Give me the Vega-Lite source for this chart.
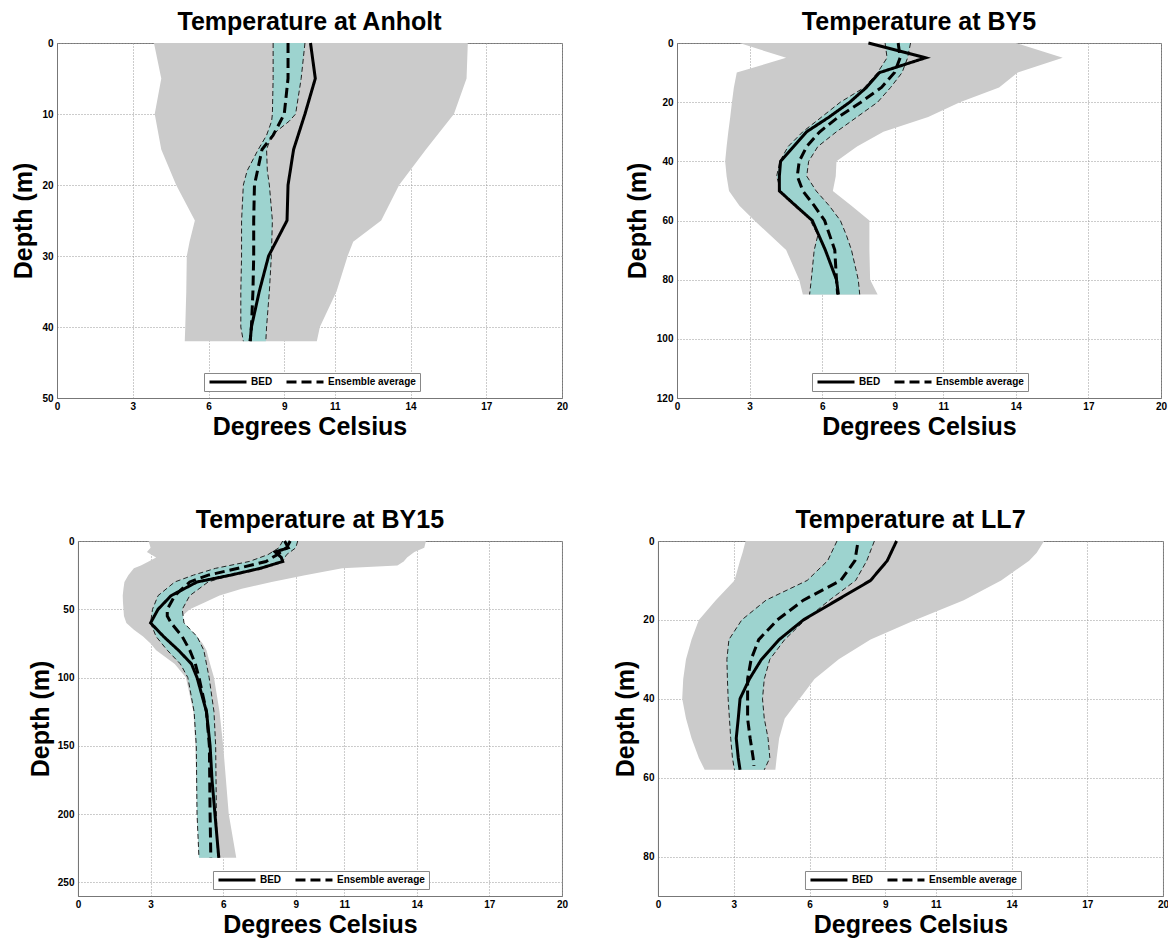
{
  "$schema": "https://vega.github.io/schema/vega-lite/v6.json",
  "background": "white",
  "padding": {"left": 11, "top": 9, "right": 0, "bottom": 0},
  "center": true,
  "spacing": 67,
  "resolve": {"scale": {"strokeDash": "independent"}, "legend": {"strokeDash": "independent"}},
  "datasets": {
    "env": [
      {"station": "Anholt", "depth": 0, "low": 3.84, "high": 16.27},
      {"station": "Anholt", "depth": 5, "low": 4.13, "high": 16.22},
      {"station": "Anholt", "depth": 10, "low": 3.87, "high": 15.72},
      {"station": "Anholt", "depth": 15, "low": 4.13, "high": 14.61},
      {"station": "Anholt", "depth": 20, "low": 4.72, "high": 13.55},
      {"station": "Anholt", "depth": 25, "low": 5.46, "high": 12.84},
      {"station": "Anholt", "depth": 28, "low": 5.25, "high": 11.73},
      {"station": "Anholt", "depth": 30, "low": 5.14, "high": 11.51},
      {"station": "Anholt", "depth": 35, "low": 5.12, "high": 11.07},
      {"station": "Anholt", "depth": 40, "low": 5.08, "high": 10.41},
      {"station": "Anholt", "depth": 42, "low": 5.06, "high": 10.29},
      {"station": "BY5", "depth": 0, "low": 2.58, "high": 14.0},
      {"station": "BY5", "depth": 5, "low": 4.51, "high": 15.94},
      {"station": "BY5", "depth": 10, "low": 2.47, "high": 14.08},
      {"station": "BY5", "depth": 15, "low": 2.35, "high": 13.31},
      {"station": "BY5", "depth": 20, "low": 2.27, "high": 11.69},
      {"station": "BY5", "depth": 25, "low": 2.2, "high": 10.38},
      {"station": "BY5", "depth": 30, "low": 2.12, "high": 8.53},
      {"station": "BY5", "depth": 35, "low": 2.05, "high": 7.44},
      {"station": "BY5", "depth": 40, "low": 1.99, "high": 6.59},
      {"station": "BY5", "depth": 45, "low": 2.05, "high": 6.56},
      {"station": "BY5", "depth": 50, "low": 2.15, "high": 6.44},
      {"station": "BY5", "depth": 55, "low": 2.58, "high": 7.21},
      {"station": "BY5", "depth": 60, "low": 3.2, "high": 7.95},
      {"station": "BY5", "depth": 70, "low": 4.51, "high": 7.95},
      {"station": "BY5", "depth": 80, "low": 5.05, "high": 7.98},
      {"station": "BY5", "depth": 85, "low": 5.2, "high": 8.29},
      {"station": "BY15", "depth": 0, "low": 2.92, "high": 14.38},
      {"station": "BY15", "depth": 5, "low": 3.0, "high": 14.31},
      {"station": "BY15", "depth": 8, "low": 2.85, "high": 13.9},
      {"station": "BY15", "depth": 12, "low": 3.23, "high": 13.6},
      {"station": "BY15", "depth": 15, "low": 2.92, "high": 13.46},
      {"station": "BY15", "depth": 18, "low": 2.6, "high": 13.2},
      {"station": "BY15", "depth": 20, "low": 2.31, "high": 10.92},
      {"station": "BY15", "depth": 25, "low": 2.08, "high": 9.38},
      {"station": "BY15", "depth": 30, "low": 1.92, "high": 8.0},
      {"station": "BY15", "depth": 35, "low": 1.88, "high": 6.77},
      {"station": "BY15", "depth": 40, "low": 1.85, "high": 5.85},
      {"station": "BY15", "depth": 45, "low": 1.86, "high": 5.23},
      {"station": "BY15", "depth": 50, "low": 1.88, "high": 4.62},
      {"station": "BY15", "depth": 55, "low": 1.9, "high": 4.31},
      {"station": "BY15", "depth": 60, "low": 2.0, "high": 4.2},
      {"station": "BY15", "depth": 65, "low": 2.31, "high": 4.5},
      {"station": "BY15", "depth": 70, "low": 2.69, "high": 4.92},
      {"station": "BY15", "depth": 75, "low": 3.0, "high": 5.15},
      {"station": "BY15", "depth": 80, "low": 3.23, "high": 5.31},
      {"station": "BY15", "depth": 90, "low": 4.0, "high": 5.46},
      {"station": "BY15", "depth": 100, "low": 4.46, "high": 5.62},
      {"station": "BY15", "depth": 125, "low": 4.77, "high": 5.85},
      {"station": "BY15", "depth": 150, "low": 4.85, "high": 6.0},
      {"station": "BY15", "depth": 200, "low": 4.92, "high": 6.23},
      {"station": "BY15", "depth": 232, "low": 5.0, "high": 6.54},
      {"station": "LL7", "depth": 0, "low": 3.47, "high": 15.29},
      {"station": "LL7", "depth": 3, "low": 3.35, "high": 15.0},
      {"station": "LL7", "depth": 5, "low": 3.25, "high": 14.7},
      {"station": "LL7", "depth": 10, "low": 3.03, "high": 13.59},
      {"station": "LL7", "depth": 15, "low": 2.29, "high": 12.11},
      {"station": "LL7", "depth": 20, "low": 1.62, "high": 10.19},
      {"station": "LL7", "depth": 25, "low": 1.33, "high": 8.42},
      {"station": "LL7", "depth": 30, "low": 1.11, "high": 7.16},
      {"station": "LL7", "depth": 35, "low": 1.0, "high": 6.2},
      {"station": "LL7", "depth": 40, "low": 0.96, "high": 5.61},
      {"station": "LL7", "depth": 45, "low": 1.11, "high": 5.02},
      {"station": "LL7", "depth": 50, "low": 1.33, "high": 4.8},
      {"station": "LL7", "depth": 55, "low": 1.62, "high": 4.7},
      {"station": "LL7", "depth": 58, "low": 1.85, "high": 4.65}
    ],
    "band": [
      {"station": "Anholt", "depth": 0, "low": 8.56, "high": 9.82},
      {"station": "Anholt", "depth": 5, "low": 8.56, "high": 9.67},
      {"station": "Anholt", "depth": 10, "low": 8.53, "high": 9.45},
      {"station": "Anholt", "depth": 11, "low": 8.5, "high": 9.2},
      {"station": "Anholt", "depth": 13, "low": 8.3, "high": 8.5},
      {"station": "Anholt", "depth": 15, "low": 7.97, "high": 8.3},
      {"station": "Anholt", "depth": 18, "low": 7.53, "high": 8.33},
      {"station": "Anholt", "depth": 20, "low": 7.38, "high": 8.41},
      {"station": "Anholt", "depth": 25, "low": 7.31, "high": 8.53},
      {"station": "Anholt", "depth": 30, "low": 7.31, "high": 8.49},
      {"station": "Anholt", "depth": 35, "low": 7.28, "high": 8.41},
      {"station": "Anholt", "depth": 40, "low": 7.28, "high": 8.3},
      {"station": "Anholt", "depth": 42, "low": 7.38, "high": 8.27},
      {"station": "BY5", "depth": 0, "low": 8.6, "high": 9.65},
      {"station": "BY5", "depth": 5, "low": 8.68, "high": 9.53},
      {"station": "BY5", "depth": 10, "low": 8.29, "high": 9.3},
      {"station": "BY5", "depth": 15, "low": 7.75, "high": 8.83},
      {"station": "BY5", "depth": 20, "low": 6.75, "high": 8.29},
      {"station": "BY5", "depth": 25, "low": 5.98, "high": 7.44},
      {"station": "BY5", "depth": 30, "low": 5.2, "high": 6.59},
      {"station": "BY5", "depth": 35, "low": 4.59, "high": 5.82},
      {"station": "BY5", "depth": 40, "low": 4.25, "high": 5.44},
      {"station": "BY5", "depth": 45, "low": 4.12, "high": 5.36},
      {"station": "BY5", "depth": 50, "low": 4.28, "high": 5.75},
      {"station": "BY5", "depth": 55, "low": 4.97, "high": 6.29},
      {"station": "BY5", "depth": 60, "low": 5.51, "high": 6.75},
      {"station": "BY5", "depth": 65, "low": 5.82, "high": 7.0},
      {"station": "BY5", "depth": 70, "low": 5.67, "high": 7.21},
      {"station": "BY5", "depth": 80, "low": 5.55, "high": 7.49},
      {"station": "BY5", "depth": 85, "low": 5.48, "high": 7.55},
      {"station": "BY15", "depth": 0, "low": 8.46, "high": 9.08},
      {"station": "BY15", "depth": 5, "low": 8.3, "high": 9.0},
      {"station": "BY15", "depth": 10, "low": 7.85, "high": 8.62},
      {"station": "BY15", "depth": 15, "low": 7.08, "high": 8.46},
      {"station": "BY15", "depth": 20, "low": 5.69, "high": 7.54},
      {"station": "BY15", "depth": 25, "low": 4.77, "high": 6.31},
      {"station": "BY15", "depth": 30, "low": 4.0, "high": 5.38},
      {"station": "BY15", "depth": 40, "low": 3.31, "high": 4.62},
      {"station": "BY15", "depth": 50, "low": 3.08, "high": 4.31},
      {"station": "BY15", "depth": 60, "low": 3.0, "high": 4.38},
      {"station": "BY15", "depth": 70, "low": 3.23, "high": 4.92},
      {"station": "BY15", "depth": 80, "low": 3.69, "high": 5.2},
      {"station": "BY15", "depth": 90, "low": 4.23, "high": 5.31},
      {"station": "BY15", "depth": 100, "low": 4.54, "high": 5.42},
      {"station": "BY15", "depth": 125, "low": 4.8, "high": 5.62},
      {"station": "BY15", "depth": 150, "low": 4.89, "high": 5.69},
      {"station": "BY15", "depth": 200, "low": 4.92, "high": 5.72},
      {"station": "BY15", "depth": 232, "low": 5.0, "high": 5.77},
      {"station": "LL7", "depth": 0, "low": 7.09, "high": 8.57},
      {"station": "LL7", "depth": 5, "low": 6.72, "high": 8.27},
      {"station": "LL7", "depth": 10, "low": 5.91, "high": 7.83},
      {"station": "LL7", "depth": 15, "low": 4.28, "high": 6.79},
      {"station": "LL7", "depth": 20, "low": 3.32, "high": 5.83},
      {"station": "LL7", "depth": 25, "low": 2.81, "high": 5.02},
      {"station": "LL7", "depth": 30, "low": 2.73, "high": 4.43},
      {"station": "LL7", "depth": 35, "low": 2.75, "high": 4.21},
      {"station": "LL7", "depth": 40, "low": 2.78, "high": 4.14},
      {"station": "LL7", "depth": 45, "low": 2.83, "high": 4.21},
      {"station": "LL7", "depth": 50, "low": 2.88, "high": 4.36},
      {"station": "LL7", "depth": 55, "low": 2.95, "high": 4.43},
      {"station": "LL7", "depth": 58, "low": 3.03, "high": 4.21}
    ],
    "prof": [
      {"station": "Anholt", "series": "BED", "depth": 0, "temp": 10.04},
      {"station": "Anholt", "series": "BED", "depth": 5, "temp": 10.23},
      {"station": "Anholt", "series": "BED", "depth": 10, "temp": 9.82},
      {"station": "Anholt", "series": "BED", "depth": 15, "temp": 9.37},
      {"station": "Anholt", "series": "BED", "depth": 20, "temp": 9.15},
      {"station": "Anholt", "series": "BED", "depth": 25, "temp": 9.11},
      {"station": "Anholt", "series": "BED", "depth": 30, "temp": 8.38},
      {"station": "Anholt", "series": "BED", "depth": 35, "temp": 8.01},
      {"station": "Anholt", "series": "BED", "depth": 40, "temp": 7.7},
      {"station": "Anholt", "series": "BED", "depth": 42, "temp": 7.65},
      {"station": "Anholt", "series": "Ensemble average", "depth": 0, "temp": 9.15},
      {"station": "Anholt", "series": "Ensemble average", "depth": 5, "temp": 9.15},
      {"station": "Anholt", "series": "Ensemble average", "depth": 10, "temp": 9.0},
      {"station": "Anholt", "series": "Ensemble average", "depth": 13, "temp": 8.56},
      {"station": "Anholt", "series": "Ensemble average", "depth": 15, "temp": 8.12},
      {"station": "Anholt", "series": "Ensemble average", "depth": 20, "temp": 7.82},
      {"station": "Anholt", "series": "Ensemble average", "depth": 25, "temp": 7.79},
      {"station": "Anholt", "series": "Ensemble average", "depth": 30, "temp": 7.79},
      {"station": "Anholt", "series": "Ensemble average", "depth": 35, "temp": 7.76},
      {"station": "Anholt", "series": "Ensemble average", "depth": 40, "temp": 7.7},
      {"station": "Anholt", "series": "Ensemble average", "depth": 42, "temp": 7.65},
      {"station": "BY5", "series": "BED", "depth": 0, "temp": 7.91},
      {"station": "BY5", "series": "BED", "depth": 5, "temp": 10.27},
      {"station": "BY5", "series": "BED", "depth": 10, "temp": 8.37},
      {"station": "BY5", "series": "BED", "depth": 15, "temp": 7.83},
      {"station": "BY5", "series": "BED", "depth": 20, "temp": 7.14},
      {"station": "BY5", "series": "BED", "depth": 25, "temp": 6.29},
      {"station": "BY5", "series": "BED", "depth": 30, "temp": 5.36},
      {"station": "BY5", "series": "BED", "depth": 35, "temp": 4.82},
      {"station": "BY5", "series": "BED", "depth": 40, "temp": 4.28},
      {"station": "BY5", "series": "BED", "depth": 45, "temp": 4.23},
      {"station": "BY5", "series": "BED", "depth": 50, "temp": 4.23},
      {"station": "BY5", "series": "BED", "depth": 55, "temp": 4.9},
      {"station": "BY5", "series": "BED", "depth": 60, "temp": 5.59},
      {"station": "BY5", "series": "BED", "depth": 70, "temp": 6.13},
      {"station": "BY5", "series": "BED", "depth": 80, "temp": 6.59},
      {"station": "BY5", "series": "BED", "depth": 85, "temp": 6.67},
      {"station": "BY5", "series": "Ensemble average", "depth": 0, "temp": 9.14},
      {"station": "BY5", "series": "Ensemble average", "depth": 5, "temp": 9.22},
      {"station": "BY5", "series": "Ensemble average", "depth": 10, "temp": 8.99},
      {"station": "BY5", "series": "Ensemble average", "depth": 15, "temp": 8.45},
      {"station": "BY5", "series": "Ensemble average", "depth": 20, "temp": 7.6},
      {"station": "BY5", "series": "Ensemble average", "depth": 25, "temp": 6.67},
      {"station": "BY5", "series": "Ensemble average", "depth": 30, "temp": 5.9},
      {"station": "BY5", "series": "Ensemble average", "depth": 35, "temp": 5.36},
      {"station": "BY5", "series": "Ensemble average", "depth": 40, "temp": 5.05},
      {"station": "BY5", "series": "Ensemble average", "depth": 45, "temp": 4.97},
      {"station": "BY5", "series": "Ensemble average", "depth": 50, "temp": 5.2},
      {"station": "BY5", "series": "Ensemble average", "depth": 55, "temp": 5.67},
      {"station": "BY5", "series": "Ensemble average", "depth": 60, "temp": 6.1},
      {"station": "BY5", "series": "Ensemble average", "depth": 70, "temp": 6.52},
      {"station": "BY5", "series": "Ensemble average", "depth": 80, "temp": 6.59},
      {"station": "BY5", "series": "Ensemble average", "depth": 85, "temp": 6.64},
      {"station": "BY15", "series": "BED", "depth": 0, "temp": 8.54},
      {"station": "BY15", "series": "BED", "depth": 5, "temp": 8.69},
      {"station": "BY15", "series": "BED", "depth": 8, "temp": 8.15},
      {"station": "BY15", "series": "BED", "depth": 12, "temp": 8.4},
      {"station": "BY15", "series": "BED", "depth": 15, "temp": 8.46},
      {"station": "BY15", "series": "BED", "depth": 20, "temp": 7.54},
      {"station": "BY15", "series": "BED", "depth": 25, "temp": 6.31},
      {"station": "BY15", "series": "BED", "depth": 30, "temp": 4.92},
      {"station": "BY15", "series": "BED", "depth": 40, "temp": 3.85},
      {"station": "BY15", "series": "BED", "depth": 50, "temp": 3.31},
      {"station": "BY15", "series": "BED", "depth": 60, "temp": 3.0},
      {"station": "BY15", "series": "BED", "depth": 70, "temp": 3.54},
      {"station": "BY15", "series": "BED", "depth": 80, "temp": 4.15},
      {"station": "BY15", "series": "BED", "depth": 90, "temp": 4.69},
      {"station": "BY15", "series": "BED", "depth": 100, "temp": 4.92},
      {"station": "BY15", "series": "BED", "depth": 125, "temp": 5.31},
      {"station": "BY15", "series": "BED", "depth": 150, "temp": 5.46},
      {"station": "BY15", "series": "BED", "depth": 175, "temp": 5.54},
      {"station": "BY15", "series": "BED", "depth": 200, "temp": 5.66},
      {"station": "BY15", "series": "BED", "depth": 232, "temp": 5.82},
      {"station": "BY15", "series": "Ensemble average", "depth": 0, "temp": 8.77},
      {"station": "BY15", "series": "Ensemble average", "depth": 5, "temp": 8.62},
      {"station": "BY15", "series": "Ensemble average", "depth": 10, "temp": 8.23},
      {"station": "BY15", "series": "Ensemble average", "depth": 15, "temp": 7.77},
      {"station": "BY15", "series": "Ensemble average", "depth": 20, "temp": 6.62},
      {"station": "BY15", "series": "Ensemble average", "depth": 25, "temp": 5.38},
      {"station": "BY15", "series": "Ensemble average", "depth": 30, "temp": 4.62},
      {"station": "BY15", "series": "Ensemble average", "depth": 40, "temp": 4.0},
      {"station": "BY15", "series": "Ensemble average", "depth": 50, "temp": 3.69},
      {"station": "BY15", "series": "Ensemble average", "depth": 55, "temp": 3.69},
      {"station": "BY15", "series": "Ensemble average", "depth": 60, "temp": 3.85},
      {"station": "BY15", "series": "Ensemble average", "depth": 70, "temp": 4.31},
      {"station": "BY15", "series": "Ensemble average", "depth": 80, "temp": 4.62},
      {"station": "BY15", "series": "Ensemble average", "depth": 90, "temp": 4.85},
      {"station": "BY15", "series": "Ensemble average", "depth": 100, "temp": 5.0},
      {"station": "BY15", "series": "Ensemble average", "depth": 125, "temp": 5.31},
      {"station": "BY15", "series": "Ensemble average", "depth": 150, "temp": 5.43},
      {"station": "BY15", "series": "Ensemble average", "depth": 200, "temp": 5.46},
      {"station": "BY15", "series": "Ensemble average", "depth": 232, "temp": 5.49},
      {"station": "LL7", "series": "BED", "depth": 0, "temp": 9.45},
      {"station": "LL7", "series": "BED", "depth": 5, "temp": 9.08},
      {"station": "LL7", "series": "BED", "depth": 10, "temp": 8.42},
      {"station": "LL7", "series": "BED", "depth": 15, "temp": 7.09},
      {"station": "LL7", "series": "BED", "depth": 20, "temp": 5.76},
      {"station": "LL7", "series": "BED", "depth": 25, "temp": 4.8},
      {"station": "LL7", "series": "BED", "depth": 30, "temp": 4.1},
      {"station": "LL7", "series": "BED", "depth": 35, "temp": 3.62},
      {"station": "LL7", "series": "BED", "depth": 40, "temp": 3.25},
      {"station": "LL7", "series": "BED", "depth": 45, "temp": 3.18},
      {"station": "LL7", "series": "BED", "depth": 50, "temp": 3.1},
      {"station": "LL7", "series": "BED", "depth": 55, "temp": 3.18},
      {"station": "LL7", "series": "BED", "depth": 58, "temp": 3.25},
      {"station": "LL7", "series": "Ensemble average", "depth": 1, "temp": 7.9},
      {"station": "LL7", "series": "Ensemble average", "depth": 5, "temp": 7.8},
      {"station": "LL7", "series": "Ensemble average", "depth": 10, "temp": 7.24},
      {"station": "LL7", "series": "Ensemble average", "depth": 15, "temp": 5.76},
      {"station": "LL7", "series": "Ensemble average", "depth": 20, "temp": 4.73},
      {"station": "LL7", "series": "Ensemble average", "depth": 25, "temp": 3.99},
      {"station": "LL7", "series": "Ensemble average", "depth": 30, "temp": 3.69},
      {"station": "LL7", "series": "Ensemble average", "depth": 35, "temp": 3.55},
      {"station": "LL7", "series": "Ensemble average", "depth": 40, "temp": 3.55},
      {"station": "LL7", "series": "Ensemble average", "depth": 45, "temp": 3.55},
      {"station": "LL7", "series": "Ensemble average", "depth": 50, "temp": 3.65},
      {"station": "LL7", "series": "Ensemble average", "depth": 55, "temp": 3.77},
      {"station": "LL7", "series": "Ensemble average", "depth": 57, "temp": 3.8}
    ]
  },
  "vconcat": [
    {
      "spacing": 0,
      "resolve": {"scale": {"strokeDash": "independent"}, "legend": {"strokeDash": "independent"}},
      "hconcat": [
        {
          "spacing": 55,
          "resolve": {"scale": {"strokeDash": "independent"}, "legend": {"strokeDash": "independent"}},
          "hconcat": [
            {
              "width": 505, "height": 355,
              "title": "Temperature at Anholt",
              "layer": [
                {"data": {"name": "env"}, "transform": [{"filter": "datum.station === 'Anholt'"}],
                 "mark": {"type": "area", "orient": "horizontal", "color": "#cbcbcb"},
                 "encoding": {
                   "y": {"field": "depth", "type": "quantitative", "title": "Depth (m)", "scale": {"domain": [0, 50], "reverse": true, "nice": false, "zero": false}, "axis": {"values": [0, 10, 20, 30, 40, 50]}},
                   "x": {"field": "low", "type": "quantitative", "title": "Degrees Celsius", "scale": {"domain": [0, 20], "nice": false}, "axis": {"values": [0, 3, 6, 9, 11, 14, 17, 20]}},
                   "x2": {"field": "high"}}},
                {"data": {"name": "band"}, "transform": [{"filter": "datum.station === 'Anholt'"}],
                 "mark": {"type": "area", "orient": "horizontal", "color": "#9dd3cf"},
                 "encoding": {"y": {"field": "depth", "type": "quantitative", "title": "Depth (m)"}, "x": {"field": "low", "type": "quantitative", "title": "Degrees Celsius"}, "x2": {"field": "high"}}},
                {"data": {"name": "band"}, "transform": [{"filter": "datum.station === 'Anholt'"}],
                 "mark": {"type": "line", "orient": "horizontal", "color": "#222", "strokeWidth": 1, "strokeDash": [5, 3]},
                 "encoding": {"y": {"field": "depth", "type": "quantitative", "title": "Depth (m)"}, "x": {"field": "low", "type": "quantitative", "title": "Degrees Celsius"}}},
                {"data": {"name": "band"}, "transform": [{"filter": "datum.station === 'Anholt'"}],
                 "mark": {"type": "line", "orient": "horizontal", "color": "#222", "strokeWidth": 1, "strokeDash": [5, 3]},
                 "encoding": {"y": {"field": "depth", "type": "quantitative", "title": "Depth (m)"}, "x": {"field": "high", "type": "quantitative", "title": "Degrees Celsius"}}},
                {"data": {"name": "prof"}, "transform": [{"filter": "datum.station === 'Anholt'"}],
                 "mark": {"type": "line", "orient": "horizontal", "color": "black", "strokeWidth": 3},
                 "encoding": {"y": {"field": "depth", "type": "quantitative", "title": "Depth (m)"}, "x": {"field": "temp", "type": "quantitative", "title": "Degrees Celsius"},
                   "strokeDash": {"field": "series", "type": "nominal", "scale": {"domain": ["BED", "Ensemble average"], "range": [[1, 0], [10, 5]]}, "legend": {"legendX": 147, "legendY": 330}}}}
              ]
            },
            {
              "width": 484, "height": 355,
              "title": "Temperature at BY5",
              "layer": [
                {"data": {"name": "env"}, "transform": [{"filter": "datum.station === 'BY5'"}],
                 "mark": {"type": "area", "orient": "horizontal", "color": "#cbcbcb"},
                 "encoding": {
                   "y": {"field": "depth", "type": "quantitative", "title": "Depth (m)", "scale": {"domain": [0, 120], "reverse": true, "nice": false, "zero": false}, "axis": {"values": [0, 20, 40, 60, 80, 100, 120], "titlePadding": 6}},
                   "x": {"field": "low", "type": "quantitative", "title": "Degrees Celsius", "scale": {"domain": [0, 20], "nice": false}, "axis": {"values": [0, 3, 6, 9, 11, 14, 17, 20]}},
                   "x2": {"field": "high"}}},
                {"data": {"name": "band"}, "transform": [{"filter": "datum.station === 'BY5'"}],
                 "mark": {"type": "area", "orient": "horizontal", "color": "#9dd3cf"},
                 "encoding": {"y": {"field": "depth", "type": "quantitative", "title": "Depth (m)"}, "x": {"field": "low", "type": "quantitative", "title": "Degrees Celsius"}, "x2": {"field": "high"}}},
                {"data": {"name": "band"}, "transform": [{"filter": "datum.station === 'BY5'"}],
                 "mark": {"type": "line", "orient": "horizontal", "color": "#222", "strokeWidth": 1, "strokeDash": [5, 3]},
                 "encoding": {"y": {"field": "depth", "type": "quantitative", "title": "Depth (m)"}, "x": {"field": "low", "type": "quantitative", "title": "Degrees Celsius"}}},
                {"data": {"name": "band"}, "transform": [{"filter": "datum.station === 'BY5'"}],
                 "mark": {"type": "line", "orient": "horizontal", "color": "#222", "strokeWidth": 1, "strokeDash": [5, 3]},
                 "encoding": {"y": {"field": "depth", "type": "quantitative", "title": "Depth (m)"}, "x": {"field": "high", "type": "quantitative", "title": "Degrees Celsius"}}},
                {"data": {"name": "prof"}, "transform": [{"filter": "datum.station === 'BY5'"}],
                 "mark": {"type": "line", "orient": "horizontal", "color": "black", "strokeWidth": 3},
                 "encoding": {"y": {"field": "depth", "type": "quantitative", "title": "Depth (m)"}, "x": {"field": "temp", "type": "quantitative", "title": "Degrees Celsius"},
                   "strokeDash": {"field": "series", "type": "nominal", "scale": {"domain": ["BED", "Ensemble average"], "range": [[1, 0], [10, 5]]}, "legend": {"legendX": 135, "legendY": 330}}}}
              ]
            }
          ]
        },
        {
          "width": 22, "height": 10,
          "data": {"values": []},
          "mark": {"type": "point"},
          "encoding": {},
          "view": {"stroke": null}
        }
      ]
    },
    {
      "spacing": 44,
      "resolve": {"scale": {"strokeDash": "independent"}, "legend": {"strokeDash": "independent"}},
      "hconcat": [
        {
          "width": 484, "height": 355,
          "title": "Temperature at BY15",
          "layer": [
            {"data": {"name": "env"}, "transform": [{"filter": "datum.station === 'BY15'"}],
             "mark": {"type": "area", "orient": "horizontal", "color": "#cbcbcb"},
             "encoding": {
               "y": {"field": "depth", "type": "quantitative", "title": "Depth (m)", "scale": {"domain": [0, 260], "reverse": true, "nice": false, "zero": false}, "axis": {"values": [0, 50, 100, 150, 200, 250], "titlePadding": 4}},
               "x": {"field": "low", "type": "quantitative", "title": "Degrees Celsius", "scale": {"domain": [0, 20], "nice": false}, "axis": {"values": [0, 3, 6, 9, 11, 14, 17, 20]}},
               "x2": {"field": "high"}}},
            {"data": {"name": "band"}, "transform": [{"filter": "datum.station === 'BY15'"}],
             "mark": {"type": "area", "orient": "horizontal", "color": "#9dd3cf"},
             "encoding": {"y": {"field": "depth", "type": "quantitative", "title": "Depth (m)"}, "x": {"field": "low", "type": "quantitative", "title": "Degrees Celsius"}, "x2": {"field": "high"}}},
            {"data": {"name": "band"}, "transform": [{"filter": "datum.station === 'BY15'"}],
             "mark": {"type": "line", "orient": "horizontal", "color": "#222", "strokeWidth": 1, "strokeDash": [5, 3]},
             "encoding": {"y": {"field": "depth", "type": "quantitative", "title": "Depth (m)"}, "x": {"field": "low", "type": "quantitative", "title": "Degrees Celsius"}}},
            {"data": {"name": "band"}, "transform": [{"filter": "datum.station === 'BY15'"}],
             "mark": {"type": "line", "orient": "horizontal", "color": "#222", "strokeWidth": 1, "strokeDash": [5, 3]},
             "encoding": {"y": {"field": "depth", "type": "quantitative", "title": "Depth (m)"}, "x": {"field": "high", "type": "quantitative", "title": "Degrees Celsius"}}},
            {"data": {"name": "prof"}, "transform": [{"filter": "datum.station === 'BY15'"}],
             "mark": {"type": "line", "orient": "horizontal", "color": "black", "strokeWidth": 3},
             "encoding": {"y": {"field": "depth", "type": "quantitative", "title": "Depth (m)"}, "x": {"field": "temp", "type": "quantitative", "title": "Degrees Celsius"},
               "strokeDash": {"field": "series", "type": "nominal", "scale": {"domain": ["BED", "Ensemble average"], "range": [[1, 0], [10, 5]]}, "legend": {"legendX": 135, "legendY": 330}}}}
          ]
        },
        {
          "width": 505, "height": 355,
          "title": "Temperature at LL7",
          "layer": [
            {"data": {"name": "env"}, "transform": [{"filter": "datum.station === 'LL7'"}],
             "mark": {"type": "area", "orient": "horizontal", "color": "#cbcbcb"},
             "encoding": {
               "y": {"field": "depth", "type": "quantitative", "title": "Depth (m)", "scale": {"domain": [0, 90], "reverse": true, "nice": false, "zero": false}, "axis": {"values": [0, 20, 40, 60, 80], "titlePadding": 4}},
               "x": {"field": "low", "type": "quantitative", "title": "Degrees Celsius", "scale": {"domain": [0, 20], "nice": false}, "axis": {"values": [0, 3, 6, 9, 11, 14, 17, 20]}},
               "x2": {"field": "high"}}},
            {"data": {"name": "band"}, "transform": [{"filter": "datum.station === 'LL7'"}],
             "mark": {"type": "area", "orient": "horizontal", "color": "#9dd3cf"},
             "encoding": {"y": {"field": "depth", "type": "quantitative", "title": "Depth (m)"}, "x": {"field": "low", "type": "quantitative", "title": "Degrees Celsius"}, "x2": {"field": "high"}}},
            {"data": {"name": "band"}, "transform": [{"filter": "datum.station === 'LL7'"}],
             "mark": {"type": "line", "orient": "horizontal", "color": "#222", "strokeWidth": 1, "strokeDash": [5, 3]},
             "encoding": {"y": {"field": "depth", "type": "quantitative", "title": "Depth (m)"}, "x": {"field": "low", "type": "quantitative", "title": "Degrees Celsius"}}},
            {"data": {"name": "band"}, "transform": [{"filter": "datum.station === 'LL7'"}],
             "mark": {"type": "line", "orient": "horizontal", "color": "#222", "strokeWidth": 1, "strokeDash": [5, 3]},
             "encoding": {"y": {"field": "depth", "type": "quantitative", "title": "Depth (m)"}, "x": {"field": "high", "type": "quantitative", "title": "Degrees Celsius"}}},
            {"data": {"name": "prof"}, "transform": [{"filter": "datum.station === 'LL7'"}],
             "mark": {"type": "line", "orient": "horizontal", "color": "black", "strokeWidth": 3},
             "encoding": {"y": {"field": "depth", "type": "quantitative", "title": "Depth (m)"}, "x": {"field": "temp", "type": "quantitative", "title": "Degrees Celsius"},
               "strokeDash": {"field": "series", "type": "nominal", "scale": {"domain": ["BED", "Ensemble average"], "range": [[1, 0], [10, 5]]}, "legend": {"legendX": 147, "legendY": 330}}}}
          ]
        }
      ]
    }
  ],
  "config": {
    "font": "Liberation Sans",
    "view": {"stroke": "#777", "strokeWidth": 1},
    "title": {"fontSize": 25, "fontWeight": "bold", "font": "Liberation Sans", "color": "black", "offset": 2, "frame": "group", "anchor": "middle"},
    "axis": {"labelFont": "Liberation Sans", "labelFontSize": 10, "labelFontWeight": "bold", "labelColor": "black",
             "titleFont": "Liberation Sans", "titleFontSize": 25, "titleFontWeight": "bold", "titleColor": "black",
             "grid": true, "gridColor": "#999", "gridDash": [1, 2], "gridWidth": 1, "domainColor": "#777",
             "ticks": false, "tickSize": 0, "labelFlush": false},
    "axisX": {"labelPadding": 3, "titlePadding": 3},
    "axisY": {"labelPadding": 4, "titlePadding": 5},
    "legend": {"title": null, "orient": "none", "direction": "horizontal", "symbolType": "stroke", "symbolStrokeWidth": 3,
               "symbolStrokeColor": "black", "symbolSize": 1369, "clipHeight": 10, "labelFontSize": 10, "labelFont": "Liberation Sans",
               "labelFontWeight": "bold", "labelColor": "black", "strokeColor": "#888", "fillColor": "white", "padding": 4,
               "columnPadding": 12, "labelOffset": 3}
  }
}
